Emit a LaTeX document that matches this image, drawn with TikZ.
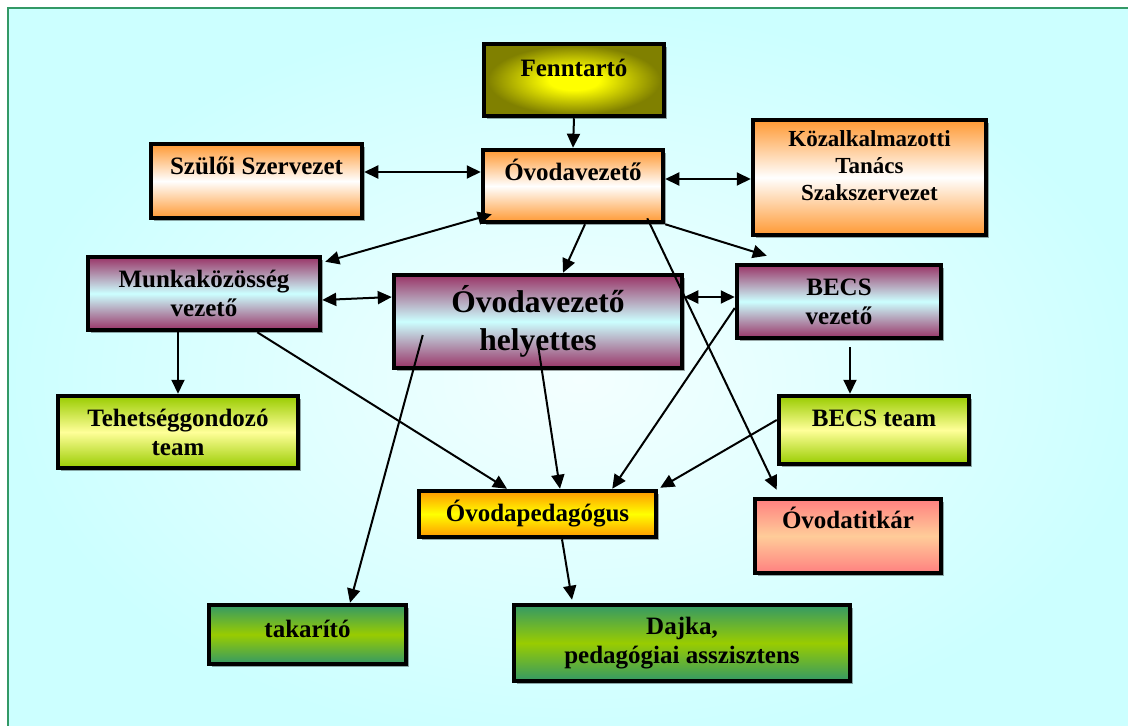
\documentclass[tikz,border=0pt]{standalone}
\usepackage{fontspec}
\setmainfont{Liberation Serif}
\usetikzlibrary{arrows.meta,shadows}

\definecolor{bgcyan}{RGB}{204,255,255}
\definecolor{bglight}{RGB}{244,255,255}
\definecolor{framegreen}{RGB}{51,153,102}
\definecolor{olivedark}{RGB}{128,128,0}
\definecolor{vezorange}{RGB}{255,153,51}
\definecolor{plum}{RGB}{153,51,102}
\definecolor{limegreen}{RGB}{153,204,0}
\definecolor{paleyellow}{RGB}{255,255,153}
\definecolor{amber}{RGB}{255,153,0}
\definecolor{salmonred}{RGB}{255,128,128}
\definecolor{peach}{RGB}{255,204,153}
\definecolor{seagreen}{RGB}{51,153,102}

\pgfdeclareradialshading{fennshade}{\pgfpoint{0bp}{0bp}}{color(0bp)=(yellow); color(7bp)=(yellow);
  color(24bp)=(olivedark); color(50bp)=(olivedark)}

\tikzset{
  orgbox/.style={draw, line width=4.5pt, inner sep=0pt, align=center,
    font=\bfseries\fontsize{25}{29}\selectfont,
    drop shadow={shadow xshift=2.5pt, shadow yshift=-2.5pt, opacity=.35, fill=black}},
  lifted/.style={text height=18pt, text depth=#1},
  lifted/.default=29pt,
  fennfill/.style={shading=fennshade},
  vezfill/.style={top color=vezorange, bottom color=vezorange, middle color=white},
  leadfill/.style={top color=plum, bottom color=plum, middle color=bgcyan},
  teamfill/.style={top color=limegreen, bottom color=limegreen, middle color=paleyellow},
  pedfill/.style={top color=amber, bottom color=amber, middle color=yellow},
  titkarfill/.style={top color=salmonred, bottom color=salmonred, middle color=peach},
  stafffill/.style={top color=seagreen, bottom color=seagreen, middle color=limegreen},
  arr/.style={line width=2pt, -{Triangle[length=14pt,width=13pt]}},
  darr/.style={line width=2pt, {Triangle[length=14pt,width=13pt]}-{Triangle[length=14pt,width=13pt]}}
}

\begin{document}
\begin{tikzpicture}[x=1pt, y=-1pt]
  \useasboundingbox (0,0) rectangle (1128,726);
  \draw[framegreen, line width=2.5pt, inner color=bglight, outer color=bgcyan] (8,8) rectangle (1150,750);

  \node[orgbox, fennfill, lifted=26pt, minimum width=180pt, minimum height=72pt] (fenn) at (574,80) {Fenntartó};
  \node[orgbox, vezfill, lifted, minimum width=180pt, minimum height=72pt] (vez) at (573,186) {Óvodavezető};
  \node[orgbox, vezfill, lifted=31pt, minimum width=211pt, minimum height=74pt] (szulo) at (256.5,181) {Szülői Szervezet};
  \node[orgbox, vezfill, font=\bfseries\fontsize{23}{27}\selectfont, text depth=24pt,
    minimum width=233pt, minimum height=115pt] (kozalk) at (869.5,177.5) {Közalkalmazotti\\Tanács\\Szakszervezet};
  \node[orgbox, leadfill, minimum width=232pt, minimum height=73pt] (munka) at (204,293.5) {Munkaközösség\\vezető};
  \node[orgbox, leadfill, font=\bfseries\fontsize{31.5}{38}\selectfont,
    minimum width=288pt, minimum height=93pt] (helyet) at (538,321.5) {Óvodavezető\\helyettes};
  \node[orgbox, leadfill, minimum width=204pt, minimum height=73pt] (becsvez) at (839,301.5) {BECS\\vezető};
  \node[orgbox, teamfill, minimum width=240pt, minimum height=72pt] (tehet) at (178,432) {Tehetséggondozó\\team};
  \node[orgbox, teamfill, lifted=26pt, minimum width=190pt, minimum height=68pt] (becsteam) at (874,430) {BECS team};
  \node[orgbox, pedfill, minimum width=237pt, minimum height=46pt] (ovped) at (537.5,514) {Óvodapedagógus};
  \node[orgbox, titkarfill, lifted=33pt, minimum width=186pt, minimum height=74pt] (titkar) at (848,536) {Óvodatitkár};
  \node[orgbox, stafffill, lifted=13pt, minimum width=197pt, minimum height=59pt] (takar) at (307.5,634.5) {takarító};
  \node[orgbox, stafffill, minimum width=336pt, minimum height=76pt] (dajka) at (682,643) {Dajka,\\pedagógiai asszisztens};

  \draw[arr] (fenn.south) -- (vez.north);
  \draw[darr] ([yshift=9pt]szulo.east) -- ([yshift=14pt]vez.west);
  \draw[darr] ([yshift=7pt]vez.east) -- ([yshift=-1.5pt]kozalk.west);
  \draw[darr] ([xshift=3pt,yshift=-7pt]munka.north east) -- ([xshift=11pt,yshift=10pt]vez.south west);
  \draw[arr] ([xshift=12pt]vez.south) -- ([xshift=25pt]helyet.north);
  \draw[arr] (vez.south east) -- ([xshift=32pt,yshift=7pt]becsvez.north west);
  \draw[arr] ([xshift=-18pt,yshift=6pt]vez.south east) -- ([xshift=24pt,yshift=7pt]titkar.north west);
  \draw[darr] ([yshift=-6.5pt]munka.east) -- ([yshift=24.5pt]helyet.west);
  \draw[darr] ([yshift=24.5pt]helyet.east) -- ([yshift=4.5pt]becsvez.west);
  \draw[arr] (tehet.north |- munka.south) -- (tehet.north);
  \draw[arr] ([xshift=-65pt]munka.south east) -- ([xshift=-30.5pt]ovped.north);
  \draw[arr] ([xshift=31pt,yshift=-13.5pt]helyet.west) -- ([xshift=42.5pt]takar.north);
  \draw[arr] ([yshift=-23.5pt]helyet.center) -- ([xshift=22.5pt]ovped.north);
  \draw[arr] ([yshift=-6.5pt]becsvez.west) -- ([xshift=-46pt]ovped.north east);
  \draw[arr] ([xshift=11pt,yshift=-7pt]becsvez.south) -- ([xshift=-24pt]becsteam.north);
  \draw[arr] ([yshift=10pt]becsteam.west) -- ([xshift=2pt,yshift=1pt]ovped.north east);
  \draw[arr] ([xshift=24.5pt]ovped.south) -- ([xshift=-110pt,yshift=3pt]dajka.north);
\end{tikzpicture}
\end{document}
